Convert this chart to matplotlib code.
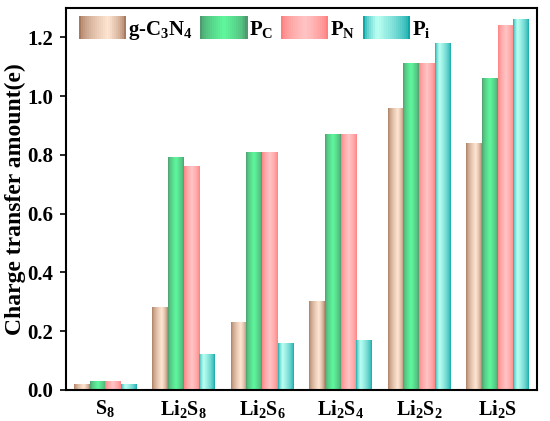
import numpy as np
import matplotlib
matplotlib.use('Agg')
import matplotlib.pyplot as plt
from matplotlib.colors import to_rgb
from matplotlib.patches import Rectangle
from matplotlib.legend_handler import HandlerBase

plt.rcParams['font.family'] = 'Liberation Serif'
plt.rcParams['font.weight'] = 'bold'
plt.rcParams['mathtext.fontset'] = 'custom'
plt.rcParams['mathtext.rm'] = 'Liberation Serif:bold'
plt.rcParams['mathtext.it'] = 'Liberation Serif:bold'
plt.rcParams['mathtext.bf'] = 'Liberation Serif:bold'
plt.rcParams['mathtext.default'] = 'rm'

# data
categories = ['S$_8$', 'Li$_2$S$_8$', 'Li$_2$S$_6$', 'Li$_2$S$_4$', 'Li$_2$S$_2$', 'Li$_2$S']
series_names = ['g-C$_3$N$_4$', 'P$_\\mathrm{C}$', 'P$_\\mathrm{N}$', 'P$_\\mathrm{i}$']
gc3n4 = [0.02, 0.28, 0.23, 0.30, 0.96, 0.84]
p_c = [0.03, 0.79, 0.81, 0.87, 1.11, 1.06]
p_n = [0.03, 0.76, 0.81, 0.87, 1.11, 1.24]
p_i = [0.02, 0.12, 0.16, 0.17, 1.18, 1.26]
series = [gc3n4, p_c, p_n, p_i]

# (dark edge colour, light colour, position of the light peak)
shades = [('#a87a5e', '#ffe6d3', 0.62),
          ('#4f9a6e', '#5ef79c', 0.50),
          ('#ff7f7f', '#ffc4c4', 0.50),
          ('#0fa6a8', '#bafff2', 0.28)]


def gradient(dark, light, peak, n=64):
    t = np.linspace(0, 1, n)
    f = np.where(t < peak, t / peak, (1 - t) / (1 - peak))
    f = np.clip(f, 0, 1) ** 0.6
    d = np.array(to_rgb(dark))
    l = np.array(to_rgb(light))
    return d[None, :] + (l - d)[None, :] * f[:, None]


class GradHandler(HandlerBase):
    def __init__(self, cols):
        super().__init__()
        self.cols = cols

    def create_artists(self, legend, orig_handle, xdescent, ydescent,
                       width, height, fontsize, trans):
        n = len(self.cols)
        out = []
        for k, c in enumerate(self.cols):
            r = Rectangle((-xdescent + width * k / n, -ydescent), width / n * 1.05, height,
                          facecolor=c, edgecolor='none', transform=trans)
            out.append(r)
        return out


fig = plt.figure(figsize=(5.5, 4.21), dpi=100)
ax = fig.add_axes([0.12, 0.074, 0.856, 0.907])

x = np.arange(len(categories))
w = 0.2
handles = []
handler_map = {}
for i, vals in enumerate(series):
    dark, light, peak = shades[i]
    cols = gradient(dark, light, peak)
    bars = ax.bar(x + (i - 1.5) * w, vals, w, color=light, edgecolor='none')
    for b in bars:
        x0, y0 = b.get_x(), b.get_y()
        ax.imshow(cols[None, :, :], extent=[x0, x0 + b.get_width(), y0, y0 + b.get_height()],
                  aspect='auto', interpolation='bilinear', zorder=2)
    h = Rectangle((0, 0), 1, 1)
    handles.append(h)
    handler_map[h] = GradHandler(gradient(dark, light, peak, 24))

ax.set_xlim(-0.5, len(categories) - 0.5)
ax.set_ylim(0, 1.3)
ax.set_xticks(x)
ax.set_xticklabels(categories, fontsize=14.5)
ax.set_yticks(np.arange(0, 1.21, 0.2))
ax.set_yticklabels(['%.1f' % v for v in np.arange(0, 1.21, 0.2)], fontsize=15)
ax.tick_params(axis='x', length=0, pad=6)
ax.tick_params(axis='y', length=4, width=1.2, direction='out', pad=5)
for s in ax.spines.values():
    s.set_linewidth(1.5)
ax.set_ylabel('Charge transfer amount(e)', fontsize=17, fontweight='bold', labelpad=1)

ax.legend(handles, series_names, handler_map=handler_map, loc='upper left',
          ncol=4, frameon=False, fontsize=15, handlelength=2.26, handleheight=1.33,
          handletextpad=0.1, columnspacing=0.35, borderaxespad=0.0,
          bbox_to_anchor=(0.01, 1.0))

plt.savefig('out.png', dpi=100)
